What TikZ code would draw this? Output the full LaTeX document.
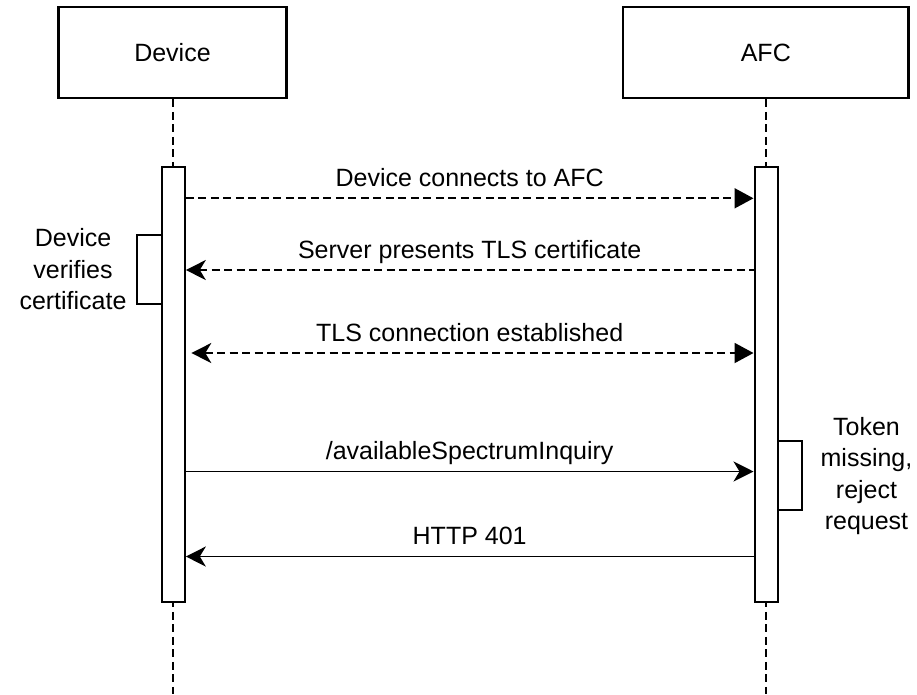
\documentclass[tikz,border=0pt]{standalone}
\usepackage{fontspec}
\setmainfont{Liberation Sans}
\usetikzlibrary{arrows.meta}
\begin{document}
\begin{tikzpicture}[x=1pt, y=-1pt,
  every node/.style={font=\fontsize{25}{31.5}\selectfont, text=black},
  head/.style={draw, line width=2.2pt, minimum width=#1, minimum height=91pt, inner sep=0pt},
  actbar/.style={draw, fill=white, line width=2pt, minimum width=23pt, minimum height=435pt, inner sep=0pt},
  lifeline/.style={line width=2pt, dash pattern=on 8pt off 4.5pt},
  msg/.style={line width=1.9pt},
  dmsg/.style={msg, dash pattern=on 8pt off 4.5pt},
  selfbox/.style={line width=2pt},
  blockend/.style={-{Triangle[length=19pt, width=20pt]}},
  classicstart/.style={{Stealth[length=20pt, width=20pt, inset=6pt]}-},
  bothends/.style={{Stealth[length=20pt, width=20pt, inset=6pt]}-{Triangle[length=19pt, width=20pt]}},
  classicend/.style={-{Stealth[length=20pt, width=20pt, inset=6pt]}},
  lbl/.style={anchor=base, yshift=12pt, inner sep=0pt},
  notetext/.style={align=center, inner sep=0pt}]

\useasboundingbox (0,0) rectangle (917,694);

% participants
\node[head=228pt] (dev) at (172.5,52.7) {Device};
\node[head=285.5pt] (afc) at (765.8,52.7) {AFC};

% row levels
\coordinate (foot) at (0,694);
\coordinate (m1) at (0,198.3);
\coordinate (m2) at (0,270);
\coordinate (m3) at (0,353);
\coordinate (m4) at (0,471.5);
\coordinate (m5) at (0,556.5);
\coordinate (v1) at (0,235);
\coordinate (v2) at (0,304);
\coordinate (t1) at (0,441);
\coordinate (t2) at (0,510);

% lifelines
\draw[lifeline] (dev.south) -- (dev.south |- foot);
\draw[lifeline] (afc.south) -- (afc.south |- foot);

% activation bars
\node[actbar] (devbar) at (173.3,384.2) {};
\node[actbar] (afcbar) at (766,384.2) {};

% self activations
\draw[selfbox] (devbar.west |- v1) -- ++(-23.5,0) |- (devbar.west |- v2);
\draw[selfbox] (afcbar.east |- t1) -- ++(23.5,0) |- (afcbar.east |- t2);

\node[notetext, anchor=east] (vnote) at (126.7,269.5) {Device\\verifies\\certificate};
\node[notetext] (tnote) at (866.5,476) {Token\\missing,\\reject\\request};

% messages
\draw[dmsg, blockend] (devbar.east |- m1) -- node[lbl] {Device connects to AFC} (afcbar.west |- m1);
\draw[dmsg, classicstart] (devbar.east |- m2) -- node[lbl] {Server presents TLS certificate} (afcbar.west |- m2);
\draw[dmsg, bothends, shorten <=5.5pt] (devbar.east |- m3) -- node[lbl] {TLS connection established} (afcbar.west |- m3);
\draw[msg, classicend] (devbar.east |- m4) -- node[lbl] {/availableSpectrumInquiry} (afcbar.west |- m4);
\draw[msg, classicstart] (devbar.east |- m5) -- node[lbl] {HTTP 401} (afcbar.west |- m5);

\end{tikzpicture}
\end{document}
